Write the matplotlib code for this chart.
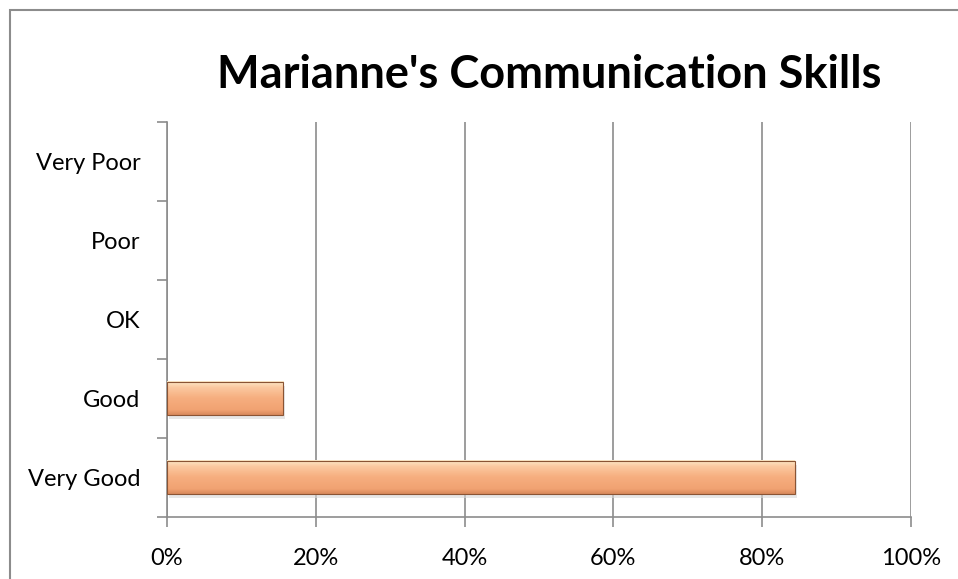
import matplotlib
matplotlib.use('Agg')
import matplotlib.pyplot as plt
import numpy as np
from matplotlib.patches import Rectangle

# categories, bottom to top
categories = ['Very Good', 'Good', 'OK', 'Poor', 'Very Poor']
shares = [84.4, 15.6, 0.0, 0.0, 0.0]
x_ticks = [0, 20, 40, 60, 80, 100]
x_labels = ['0%', '20%', '40%', '60%', '80%', '100%']

plt.rcParams['font.family'] = ['Lato', 'DejaVu Sans']

fig = plt.figure(figsize=(9.58, 5.79), dpi=100)
fig.patch.set_facecolor('white')

# outer chart border (cropped on right and bottom)
fig.add_artist(Rectangle((10 / 958, -0.1), 1.2, 1 - 10 / 579 + 0.1,
                         transform=fig.transFigure, fill=False,
                         edgecolor='#8c8c8c', linewidth=1.5))

ax = fig.add_axes([167 / 958, 1 - 517 / 579, 744 / 958, 395 / 579])

y = np.arange(len(categories))
bars = ax.barh(y, shares, height=0.42, color='#F4A878', linewidth=0, zorder=3)

# bevel look: light top edge, darker bottom
grad = np.linspace(0, 1, 100).reshape(-1, 1)
cmap = matplotlib.colors.LinearSegmentedColormap.from_list(
    'bev', [(0, '#FDEBCB'), (0.18, '#FBC9A0'), (0.5, '#F6AE7F'),
            (0.85, '#F1A272'), (1, '#D98A5C')])
for b in bars:
    w = b.get_width()
    if w <= 0:
        continue
    y0 = b.get_y()
    h = b.get_height()
    # soft shadow below the bar
    ax.add_patch(Rectangle((0.3, y0 - 0.05), w, h, facecolor='#d8d8d8',
                           edgecolor='none', alpha=0.6, zorder=2.9))
    ax.imshow(grad, extent=(0, w, y0, y0 + h), cmap=cmap, aspect='auto',
              zorder=3.5, origin='upper')
    ax.add_patch(Rectangle((0, y0), w, h, fill=False, edgecolor='#8a5434',
                           linewidth=0.8, zorder=4))

ax.set_xlim(0, 100)
ax.set_ylim(-0.5, len(categories) - 0.5)
ax.set_xticks(x_ticks)
ax.set_xticklabels(x_labels, fontsize=17)
ax.set_yticks(y)
ax.set_yticklabels(categories, fontsize=17)
ax.set_yticks(np.arange(-0.5, len(categories), 1), minor=True)

ax.tick_params(axis='y', which='major', length=0, pad=19)
ax.tick_params(axis='y', which='minor', length=7, width=1.2, color='#8c8c8c', direction='out')
ax.tick_params(axis='x', length=7, width=1.2, color='#8c8c8c', direction='out', pad=15)

ax.grid(True, axis='x', color='#8c8c8c', linewidth=1.2, zorder=0)
ax.set_axisbelow(True)
for s in ['top', 'right']:
    ax.spines[s].set_visible(False)
for s in ['left', 'bottom']:
    ax.spines[s].set_color('#8c8c8c')
    ax.spines[s].set_linewidth(1.2)

fig.text(549 / 958, 1 - 75 / 579, "Marianne's Communication Skills",
         ha='center', va='center', fontsize=32.5, fontweight='bold')

fig.savefig('out.png', dpi=100)
